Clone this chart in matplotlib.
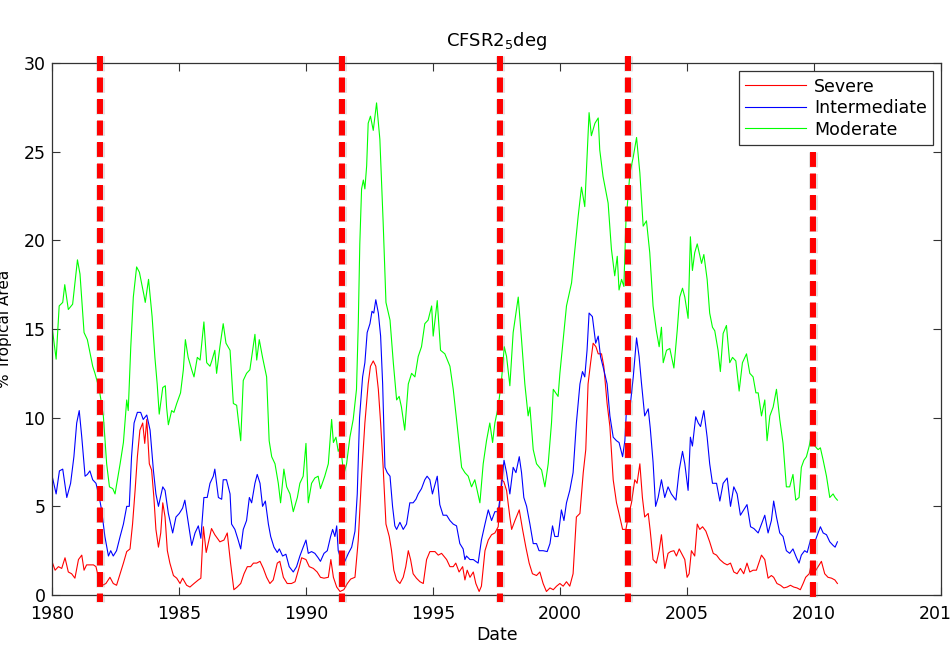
import numpy as np
import matplotlib
matplotlib.use("Agg")
import matplotlib.pyplot as plt
import matplotlib.patheffects as pe

# values, (decimal year, % tropical area)
severe = [
    (1980.01, 1.8), (1980.11, 1.4), (1980.24, 1.6), (1980.37, 1.5), (1980.50, 2.1), (1980.63, 1.3),
    (1980.76, 1.2), (1980.89, 0.95), (1981.03, 2.0), (1981.16, 2.25), (1981.25, 1.4), (1981.35, 1.7),
    (1981.48, 1.7), (1981.62, 1.7), (1981.72, 1.6), (1981.85, 0.75), (1981.98, 0.55), (1982.11, 0.65),
    (1982.27, 1.0), (1982.40, 0.65), (1982.53, 0.55), (1982.67, 1.2), (1982.80, 1.8), (1982.93, 2.45),
    (1983.06, 2.6), (1983.16, 4.0), (1983.26, 5.9), (1983.35, 7.8), (1983.45, 9.3), (1983.56, 9.7),
    (1983.64, 8.55), (1983.72, 9.9), (1983.82, 7.4), (1983.91, 7.05), (1984.00, 5.5), (1984.08, 3.7),
    (1984.18, 2.7), (1984.27, 3.5), (1984.35, 5.2), (1984.44, 4.4), (1984.53, 2.5), (1984.63, 1.8),
    (1984.77, 1.1), (1984.90, 0.95), (1985.03, 0.65), (1985.13, 0.95), (1985.29, 0.55), (1985.42, 0.45),
    (1985.58, 0.65), (1985.75, 0.85), (1985.85, 0.95), (1985.95, 3.85), (1986.06, 2.4), (1986.27, 3.75),
    (1986.40, 3.4), (1986.60, 3.0), (1986.76, 3.1), (1986.89, 3.5), (1987.02, 1.8), (1987.15, 0.3),
    (1987.28, 0.45), (1987.42, 0.65), (1987.55, 1.2), (1987.68, 1.6), (1987.81, 1.6), (1987.92, 1.8),
    (1988.05, 1.8), (1988.18, 1.9), (1988.31, 1.5), (1988.44, 1.0), (1988.57, 0.65), (1988.70, 0.85),
    (1988.86, 1.8), (1988.96, 1.9), (1989.10, 1.0), (1989.25, 0.65), (1989.42, 0.65), (1989.56, 0.75),
    (1989.73, 1.6), (1989.82, 2.1), (1989.99, 2.0), (1990.12, 1.6), (1990.28, 1.5), (1990.43, 1.3),
    (1990.56, 1.0), (1990.70, 0.95), (1990.87, 1.0), (1990.97, 2.0), (1991.07, 1.0), (1991.20, 0.45),
    (1991.33, 0.2), (1991.48, 0.3), (1991.62, 0.65), (1991.75, 0.9), (1991.92, 1.0), (1992.05, 3.1),
    (1992.18, 6.7), (1992.31, 9.7), (1992.44, 11.9), (1992.53, 12.9), (1992.64, 13.2), (1992.74, 12.9),
    (1992.84, 11.6), (1992.93, 9.7), (1993.03, 7.2), (1993.14, 4.0), (1993.27, 3.3), (1993.36, 2.5),
    (1993.45, 1.4), (1993.56, 0.85), (1993.69, 0.65), (1993.82, 1.0), (1993.92, 1.6), (1994.02, 2.5),
    (1994.11, 2.0), (1994.21, 1.2), (1994.34, 0.95), (1994.48, 0.75), (1994.61, 0.65), (1994.74, 2.0),
    (1994.87, 2.45), (1995.07, 2.45), (1995.20, 2.25), (1995.33, 2.35), (1995.53, 2.0), (1995.66, 1.6),
    (1995.79, 1.6), (1995.89, 1.8), (1996.02, 1.3), (1996.16, 1.6), (1996.25, 0.85), (1996.34, 1.4),
    (1996.45, 1.0), (1996.58, 1.3), (1996.68, 0.65), (1996.81, 0.2), (1996.90, 0.5), (1997.04, 2.5),
    (1997.17, 3.1), (1997.30, 3.4), (1997.43, 3.5), (1997.56, 3.85), (1997.69, 6.5), (1997.78, 6.4),
    (1997.89, 5.9), (1998.02, 4.4), (1998.09, 3.7), (1998.22, 4.2), (1998.39, 4.8), (1998.52, 3.7),
    (1998.65, 2.7), (1998.78, 1.8), (1998.91, 1.2), (1999.07, 1.1), (1999.20, 1.3), (1999.33, 0.65),
    (1999.46, 0.2), (1999.60, 0.4), (1999.73, 0.3), (1999.86, 0.5), (1999.99, 0.65), (2000.12, 0.5),
    (2000.25, 0.75), (2000.38, 0.5), (2000.51, 1.2), (2000.64, 4.4), (2000.78, 4.6), (2000.91, 6.9),
    (2001.01, 8.2), (2001.10, 11.9), (2001.20, 13.1), (2001.30, 14.2), (2001.41, 14.0), (2001.50, 13.6),
    (2001.63, 13.6), (2001.72, 12.9), (2001.85, 10.8), (2001.96, 9.5), (2002.09, 6.5), (2002.22, 5.2),
    (2002.32, 4.6), (2002.46, 3.7), (2002.59, 3.7), (2002.68, 4.4), (2002.81, 5.2), (2002.94, 6.5),
    (2003.03, 6.3), (2003.14, 7.4), (2003.24, 5.5), (2003.33, 4.4), (2003.47, 4.6), (2003.55, 3.6),
    (2003.66, 2.0), (2003.79, 1.8), (2003.90, 2.5), (2003.99, 3.4), (2004.12, 1.5), (2004.25, 2.35),
    (2004.35, 2.45), (2004.48, 2.5), (2004.58, 2.2), (2004.69, 2.6), (2004.78, 2.35), (2004.91, 2.0),
    (2005.00, 1.0), (2005.08, 1.2), (2005.17, 2.5), (2005.30, 2.2), (2005.40, 4.0), (2005.50, 3.7),
    (2005.61, 3.85), (2005.74, 3.6), (2005.89, 3.0), (2006.03, 2.35), (2006.16, 2.25), (2006.29, 2.0),
    (2006.45, 1.8), (2006.58, 1.7), (2006.71, 1.8), (2006.84, 1.3), (2006.97, 1.2), (2007.10, 1.5),
    (2007.23, 1.2), (2007.36, 1.8), (2007.47, 1.3), (2007.60, 1.4), (2007.73, 1.4), (2007.93, 2.25),
    (2008.06, 2.0), (2008.19, 0.95), (2008.32, 1.1), (2008.41, 1.0), (2008.54, 0.65), (2008.68, 0.55),
    (2008.81, 0.4), (2008.94, 0.45), (2009.07, 0.55), (2009.20, 0.45), (2009.33, 0.4), (2009.46, 0.3),
    (2009.57, 0.65), (2009.67, 1.0), (2009.81, 1.2), (2009.90, 1.8), (2010.03, 1.3), (2010.16, 1.6),
    (2010.29, 1.9), (2010.42, 1.2), (2010.55, 1.0), (2010.69, 0.95), (2010.82, 0.85), (2010.92, 0.65),
]

intermediate = [
    (1980.01, 6.6), (1980.15, 5.7), (1980.28, 7.0), (1980.41, 7.1), (1980.57, 5.5), (1980.72, 6.3),
    (1980.85, 7.8), (1980.96, 9.7), (1981.06, 10.4), (1981.16, 8.9), (1981.29, 6.7), (1981.38, 6.8),
    (1981.48, 7.0), (1981.59, 6.5), (1981.72, 6.3), (1981.85, 5.5), (1981.94, 4.8), (1982.07, 3.3),
    (1982.21, 2.2), (1982.30, 2.5), (1982.40, 2.2), (1982.53, 2.5), (1982.67, 3.3), (1982.80, 4.0),
    (1982.93, 5.0), (1983.03, 5.0), (1983.12, 7.8), (1983.22, 9.7), (1983.35, 10.3), (1983.48, 10.3),
    (1983.58, 9.9), (1983.72, 10.15), (1983.85, 9.3), (1983.98, 7.05), (1984.08, 5.7), (1984.18, 5.0),
    (1984.35, 6.1), (1984.44, 5.9), (1984.57, 4.6), (1984.74, 3.5), (1984.87, 4.4), (1985.00, 4.6),
    (1985.13, 4.9), (1985.22, 5.35), (1985.32, 4.4), (1985.49, 2.8), (1985.62, 3.5), (1985.75, 3.9),
    (1985.85, 3.2), (1985.97, 5.5), (1986.10, 5.5), (1986.21, 6.3), (1986.34, 6.7), (1986.40, 7.1),
    (1986.54, 5.5), (1986.67, 5.4), (1986.73, 6.5), (1986.86, 6.5), (1987.00, 5.7), (1987.06, 4.0),
    (1987.19, 3.7), (1987.32, 3.1), (1987.42, 2.6), (1987.52, 3.7), (1987.65, 4.2), (1987.76, 5.5),
    (1987.85, 5.2), (1987.98, 6.3), (1988.07, 6.8), (1988.18, 6.3), (1988.28, 5.0), (1988.39, 5.3),
    (1988.51, 4.0), (1988.60, 3.3), (1988.73, 2.7), (1988.86, 2.4), (1988.94, 2.6), (1989.07, 2.2),
    (1989.20, 2.3), (1989.33, 1.6), (1989.49, 1.3), (1989.62, 1.6), (1989.75, 2.2), (1989.88, 2.7),
    (1989.99, 3.1), (1990.08, 2.35), (1990.21, 2.45), (1990.34, 2.35), (1990.47, 2.1), (1990.56, 1.9),
    (1990.70, 2.35), (1990.83, 2.5), (1990.96, 3.3), (1991.04, 3.7), (1991.13, 3.3), (1991.20, 3.9),
    (1991.26, 2.5), (1991.39, 1.9), (1991.52, 1.9), (1991.66, 2.35), (1991.79, 2.7), (1991.92, 3.6),
    (1992.01, 5.7), (1992.10, 10.0), (1992.22, 12.3), (1992.31, 13.1), (1992.40, 14.8), (1992.51, 15.3),
    (1992.59, 16.0), (1992.66, 15.9), (1992.74, 16.65), (1992.84, 15.9), (1992.93, 14.6), (1993.01, 11.9),
    (1993.10, 7.2), (1993.19, 6.9), (1993.30, 6.7), (1993.40, 5.0), (1993.49, 3.9), (1993.56, 3.7),
    (1993.69, 4.1), (1993.82, 3.7), (1993.95, 4.0), (1994.08, 5.2), (1994.21, 5.2), (1994.32, 5.4),
    (1994.41, 5.7), (1994.54, 6.0), (1994.67, 6.5), (1994.76, 6.7), (1994.87, 6.5), (1994.97, 5.7),
    (1995.16, 6.7), (1995.26, 5.1), (1995.39, 4.5), (1995.53, 4.5), (1995.66, 4.2), (1995.79, 4.0),
    (1995.92, 3.9), (1996.05, 2.9), (1996.18, 2.6), (1996.25, 2.0), (1996.31, 2.2), (1996.45, 2.0),
    (1996.58, 2.0), (1996.77, 1.8), (1996.90, 3.1), (1997.04, 4.0), (1997.17, 4.8), (1997.30, 4.2),
    (1997.43, 4.7), (1997.56, 4.7), (1997.69, 6.1), (1997.79, 7.6), (1997.89, 6.9), (1998.02, 5.7),
    (1998.15, 7.2), (1998.26, 6.9), (1998.39, 7.8), (1998.48, 6.9), (1998.57, 5.5), (1998.68, 5.0),
    (1998.81, 4.0), (1998.94, 2.9), (1999.07, 2.9), (1999.17, 2.5), (1999.33, 2.5), (1999.49, 2.45),
    (1999.60, 2.9), (1999.70, 3.9), (1999.79, 3.3), (1999.92, 3.3), (2000.05, 4.8), (2000.15, 4.2),
    (2000.25, 5.2), (2000.38, 5.9), (2000.51, 6.9), (2000.64, 9.7), (2000.78, 11.9), (2000.88, 12.6),
    (2000.97, 12.3), (2001.06, 13.8), (2001.14, 15.9), (2001.27, 15.7), (2001.40, 14.2), (2001.50, 14.6),
    (2001.59, 13.45), (2001.72, 12.7), (2001.85, 11.9), (2001.96, 10.1), (2002.09, 8.9), (2002.22, 8.7),
    (2002.32, 8.6), (2002.46, 7.8), (2002.55, 8.7), (2002.61, 10.4), (2002.74, 10.4), (2002.88, 12.3),
    (2003.01, 14.5), (2003.11, 13.45), (2003.20, 12.0), (2003.33, 10.1), (2003.47, 10.5), (2003.55, 9.4),
    (2003.66, 7.5), (2003.76, 5.0), (2003.86, 5.5), (2003.99, 6.5), (2004.12, 5.5), (2004.25, 6.1),
    (2004.38, 5.7), (2004.56, 5.35), (2004.69, 7.05), (2004.82, 8.1), (2004.91, 7.4), (2005.04, 5.9),
    (2005.13, 8.9), (2005.21, 8.4), (2005.34, 10.05), (2005.44, 9.7), (2005.53, 9.5), (2005.66, 10.4),
    (2005.79, 8.9), (2005.89, 7.4), (2006.00, 6.3), (2006.16, 6.3), (2006.29, 5.3), (2006.42, 6.3),
    (2006.58, 6.6), (2006.71, 5.0), (2006.84, 6.1), (2006.97, 5.7), (2007.10, 4.5), (2007.23, 4.8),
    (2007.36, 5.1), (2007.50, 3.85), (2007.63, 3.75), (2007.80, 3.5), (2007.93, 4.0), (2008.06, 4.5),
    (2008.19, 3.5), (2008.32, 4.2), (2008.41, 5.3), (2008.52, 4.4), (2008.65, 3.5), (2008.78, 3.3),
    (2008.91, 2.5), (2009.04, 2.35), (2009.17, 2.6), (2009.31, 2.1), (2009.41, 1.8), (2009.50, 2.25),
    (2009.63, 2.5), (2009.73, 2.4), (2009.86, 3.1), (2010.03, 3.0), (2010.16, 3.5), (2010.25, 3.85),
    (2010.36, 3.5), (2010.49, 3.4), (2010.62, 3.0), (2010.75, 2.8), (2010.83, 2.7), (2010.92, 3.0),
]

moderate = [
    (1980.01, 14.9), (1980.15, 13.3), (1980.27, 16.3), (1980.41, 16.5), (1980.49, 17.5), (1980.63, 16.1),
    (1980.80, 16.4), (1980.99, 18.9), (1981.09, 18.1), (1981.25, 14.8), (1981.38, 14.4), (1981.59, 12.9),
    (1981.68, 12.5), (1981.85, 11.6), (1982.01, 10.1), (1982.14, 7.4), (1982.25, 6.1), (1982.38, 6.0),
    (1982.47, 5.7), (1982.67, 7.4), (1982.80, 8.6), (1982.93, 11.0), (1982.99, 10.4), (1983.09, 14.0),
    (1983.19, 16.8), (1983.32, 18.5), (1983.43, 18.2), (1983.61, 16.9), (1983.66, 16.5), (1983.79, 17.8),
    (1983.93, 15.7), (1984.04, 13.4), (1984.13, 11.9), (1984.21, 10.2), (1984.35, 11.7), (1984.45, 11.8),
    (1984.50, 10.6), (1984.57, 9.6), (1984.70, 10.4), (1984.79, 10.3), (1984.90, 10.8), (1985.05, 11.4),
    (1985.16, 12.7), (1985.24, 14.4), (1985.35, 13.4), (1985.49, 12.7), (1985.58, 12.3), (1985.71, 13.4),
    (1985.82, 13.25), (1985.97, 15.4), (1986.08, 13.1), (1986.21, 12.9), (1986.28, 13.2), (1986.40, 13.8),
    (1986.47, 12.5), (1986.60, 14.0), (1986.73, 15.3), (1986.84, 14.2), (1987.00, 13.8), (1987.13, 10.8),
    (1987.26, 10.7), (1987.42, 8.7), (1987.52, 12.1), (1987.65, 12.5), (1987.78, 12.7), (1987.98, 14.7),
    (1988.05, 13.25), (1988.15, 14.4), (1988.28, 13.4), (1988.44, 12.3), (1988.54, 8.7), (1988.64, 7.8),
    (1988.77, 7.4), (1988.90, 6.3), (1988.99, 5.2), (1989.12, 7.1), (1989.23, 6.1), (1989.36, 5.7),
    (1989.49, 4.7), (1989.65, 5.5), (1989.75, 6.3), (1989.88, 6.7), (1989.99, 8.55), (1990.08, 5.2),
    (1990.21, 6.3), (1990.34, 6.6), (1990.47, 6.7), (1990.56, 6.0), (1990.73, 6.7), (1990.87, 7.4),
    (1991.00, 9.9), (1991.07, 8.6), (1991.17, 8.9), (1991.26, 8.1), (1991.35, 8.4), (1991.48, 6.8),
    (1991.59, 7.4), (1991.72, 8.9), (1991.85, 9.9), (1991.98, 11.6), (1992.05, 15.3), (1992.11, 19.8),
    (1992.18, 22.9), (1992.25, 23.4), (1992.31, 22.9), (1992.38, 24.2), (1992.44, 26.6), (1992.53, 27.0),
    (1992.64, 26.2), (1992.77, 27.75), (1992.90, 25.7), (1993.03, 21.0), (1993.14, 16.5), (1993.30, 15.5),
    (1993.43, 13.1), (1993.56, 11.0), (1993.66, 11.2), (1993.75, 10.6), (1993.88, 9.3), (1994.02, 11.9),
    (1994.15, 12.5), (1994.28, 12.3), (1994.41, 13.45), (1994.54, 14.0), (1994.67, 15.3), (1994.80, 15.5),
    (1994.94, 16.3), (1995.00, 14.6), (1995.16, 16.6), (1995.29, 13.8), (1995.46, 13.6), (1995.66, 12.9),
    (1995.79, 11.6), (1995.92, 9.9), (1996.12, 7.2), (1996.25, 6.9), (1996.38, 6.7), (1996.51, 6.1),
    (1996.64, 6.5), (1996.84, 5.2), (1996.97, 7.4), (1997.10, 8.7), (1997.23, 9.7), (1997.34, 8.6),
    (1997.43, 9.7), (1997.56, 10.6), (1997.69, 12.1), (1997.80, 14.0), (1997.89, 13.45), (1998.02, 11.8),
    (1998.15, 14.8), (1998.35, 16.8), (1998.48, 14.4), (1998.61, 11.9), (1998.74, 10.1), (1998.81, 10.6),
    (1998.94, 8.2), (1999.07, 7.4), (1999.27, 7.05), (1999.40, 6.1), (1999.53, 7.4), (1999.66, 9.7),
    (1999.73, 11.6), (1999.92, 11.2), (1999.99, 12.5), (2000.12, 14.4), (2000.25, 16.3), (2000.45, 17.6),
    (2000.58, 19.5), (2000.71, 21.35), (2000.84, 23.0), (2000.97, 21.9), (2001.06, 24.7), (2001.14, 27.2),
    (2001.23, 25.9), (2001.37, 26.6), (2001.50, 26.9), (2001.56, 25.1), (2001.69, 23.6), (2001.89, 22.1),
    (2002.02, 19.5), (2002.15, 18.0), (2002.25, 19.1), (2002.32, 17.2), (2002.42, 17.8), (2002.51, 17.4),
    (2002.59, 21.0), (2002.75, 23.8), (2002.88, 24.7), (2003.01, 25.8), (2003.14, 23.8), (2003.27, 20.8),
    (2003.40, 21.1), (2003.53, 19.3), (2003.66, 16.3), (2003.79, 14.9), (2003.90, 14.0), (2003.99, 15.1),
    (2004.06, 13.1), (2004.19, 13.8), (2004.32, 13.9), (2004.48, 12.8), (2004.61, 14.9), (2004.71, 16.8),
    (2004.82, 17.3), (2004.91, 16.8), (2005.04, 15.6), (2005.13, 20.2), (2005.21, 18.3), (2005.30, 19.3),
    (2005.40, 19.8), (2005.57, 18.7), (2005.66, 19.2), (2005.79, 17.8), (2005.89, 15.9), (2006.00, 15.1),
    (2006.09, 14.9), (2006.22, 13.8), (2006.31, 12.6), (2006.42, 14.75), (2006.55, 15.2), (2006.68, 13.1),
    (2006.79, 13.4), (2006.92, 13.2), (2007.05, 11.5), (2007.18, 13.1), (2007.34, 13.6), (2007.47, 12.5),
    (2007.60, 12.3), (2007.71, 11.4), (2007.80, 11.4), (2007.93, 10.1), (2008.06, 11.0), (2008.15, 8.7),
    (2008.26, 10.1), (2008.39, 10.6), (2008.52, 11.6), (2008.65, 9.9), (2008.78, 8.55), (2008.91, 6.1),
    (2009.04, 6.1), (2009.17, 6.8), (2009.28, 5.35), (2009.41, 5.5), (2009.50, 7.2), (2009.60, 7.6),
    (2009.70, 7.8), (2009.81, 8.4), (2009.90, 9.1), (2010.03, 8.4), (2010.16, 8.2), (2010.25, 8.3),
    (2010.36, 7.6), (2010.49, 6.7), (2010.62, 5.5), (2010.75, 5.7), (2010.83, 5.5), (2010.92, 5.35),
]

# red dashed event markers
event_years = [1981.87, 1991.42, 1997.65, 2002.68, 2009.96]
event_tops = [30.4, 30.4, 30.4, 30.4, 25.0]
event_bottom = -0.4

x_ticks = [1980, 1985, 1990, 1995, 2000, 2005, 2010, 2015]
y_ticks = [0, 5, 10, 15, 20, 25, 30]


def main():
    plt.rcParams['font.family'] = ['DejaVu Sans']
    fig = plt.figure(figsize=(9.53, 6.46), dpi=100)
    ax = fig.add_axes([0.0549, 0.0789, 0.9325, 0.8236])

    for data, col, lab in [(severe, '#ff0000', 'Severe'),
                           (intermediate, '#0000ff', 'Intermediate'),
                           (moderate, '#00ff00', 'Moderate')]:
        arr = np.array(data)
        ax.plot(arr[:, 0], arr[:, 1], color=col, lw=0.8, label=lab)

    for yr, top in zip(event_years, event_tops):
        ax.plot([yr, yr], [top, event_bottom], color='#ff0000', lw=4.3,
                linestyle=(0, (2.5, 1.1)), solid_capstyle='butt', dash_capstyle='butt',
                clip_on=False, zorder=5,
                path_effects=[pe.Stroke(linewidth=6.5, foreground=(0.55, 0.55, 0.55), alpha=0.25),
                              pe.Normal()])

    ax.set_xlim(1980, 2015)
    ax.set_ylim(0, 30)
    ax.set_xticks(x_ticks)
    ax.set_yticks(y_ticks)
    ax.tick_params(direction='in', length=6, width=0.8, top=True, right=True,
                   labelsize=12.5, color='#333333')
    ax.tick_params(axis='x', pad=7)
    ax.tick_params(axis='y', pad=5)
    for s in ax.spines.values():
        s.set_color('#333333')
        s.set_linewidth(0.9)

    ax.set_title('CFSR2$_5$deg', fontsize=13, pad=12)
    ax.set_xlabel('Date', fontsize=12.5, labelpad=2)
    ax.set_ylabel('% Tropical Area', fontsize=11)
    ax.yaxis.set_label_coords(-0.045, 0.5)

    leg = ax.legend(loc='upper right', bbox_to_anchor=(0.991, 0.984), borderaxespad=0,
                    fontsize=12.5, handlelength=3.5, handletextpad=0.45, labelspacing=0.2,
                    borderpad=0.35, fancybox=False, framealpha=1, edgecolor='#333333')
    leg.get_frame().set_linewidth(0.9)

    fig.savefig('out.png', dpi=100)


if __name__ == "__main__":
    main()
